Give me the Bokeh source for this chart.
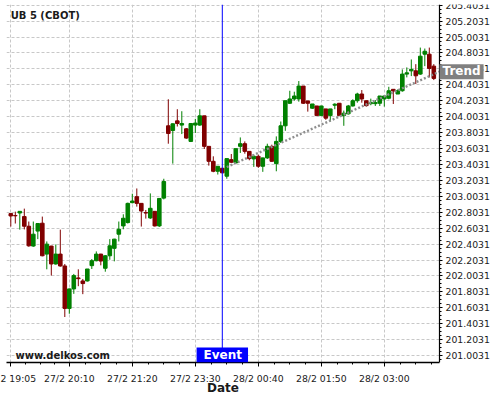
import numpy as np
from bokeh.plotting import figure
from bokeh.models import (ColumnDataSource, Range1d, FixedTicker, PrintfTickFormatter,
                          Span, Label, BoxAnnotation)
from bokeh.embed import file_html
from bokeh.resources import INLINE

# ---------------- data ----------------
tick_idx = [0, 13, 27, 41, 55, 69, 83]
# the first label is cut by the left edge in the original, only "2 19:05" shows
tick_labels = ["2 19:05", "27/2 20:10", "27/2 21:20", "27/2 23:30",
               "28/2 00:40", "28/2 01:50", "28/2 03:00"]

open_ = [202.787, 202.762, 202.794, 202.749, 202.628, 202.379, 202.567, 202.666, 202.278, 202.379,
         202.154, 202.278, 202.129, 201.596, 201.841, 201.979, 201.941, 201.941, 202.133, 202.195,
         202.278, 202.100, 202.257, 202.350, 202.528, 202.632, 202.674, 202.924, 202.999, 202.915,
         202.799, 202.732, 202.815, 202.632, 202.981, 203.889, 203.830, 203.951, 203.898, 203.851,
         203.693, 203.898, 203.898, 204.014, 203.631, 203.443, 203.318, 203.356, 203.256, 203.464,
         203.423, 203.631, 203.664, 203.568, 203.473, 203.506, 203.381, 203.486, 203.631, 203.414,
         203.693, 203.889, 204.172, 204.226, 204.226, 204.388, 204.201, 204.110, 204.138, 204.017,
         204.101, 204.017, 204.147, 204.172, 204.017, 204.039, 204.138, 204.204, 204.288, 204.204,
         204.167, 204.167, 204.172, 204.226, 204.235, 204.347, 204.288, 204.329, 204.538, 204.579,
         204.579, 204.538, 204.788, 204.788, 204.638]
high = [202.790, 202.811, 202.815, 202.849, 202.687, 202.687, 202.666, 202.749, 202.437, 202.382,
        202.399, 202.585, 202.154, 201.845, 202.029, 202.087, 201.966, 202.091, 202.216, 202.312,
        202.282, 202.266, 202.466, 202.470, 202.687, 202.778, 202.924, 203.036, 203.102, 202.915,
        202.832, 203.040, 202.815, 202.977, 203.224, 204.222, 203.920, 204.097, 204.072, 203.860,
        203.923, 203.976, 204.097, 204.014, 203.631, 203.506, 203.381, 203.356, 203.477, 203.535,
        203.602, 203.743, 203.693, 203.568, 203.527, 203.527, 203.489, 203.664, 203.652, 203.756,
        203.943, 204.204, 204.329, 204.317, 204.451, 204.388, 204.201, 204.163, 204.138, 204.138,
        204.101, 204.101, 204.172, 204.172, 204.080, 204.151, 204.222, 204.304, 204.338, 204.204,
        204.230, 204.213, 204.263, 204.272, 204.379, 204.347, 204.347, 204.597, 204.622, 204.722,
        204.663, 204.871, 204.859, 204.871, 204.663]
low = [202.624, 202.662, 202.585, 202.588, 202.370, 202.370, 202.466, 202.250, 202.087, 202.008,
       202.145, 202.120, 201.488, 201.529, 201.779, 201.875, 201.775, 201.933, 202.091, 202.187,
       202.137, 202.057, 202.207, 202.187, 202.437, 202.590, 202.662, 202.915, 202.874, 202.624,
       202.724, 202.719, 202.624, 202.619, 202.965, 203.664, 203.414, 203.880, 203.785, 203.726,
       203.685, 203.798, 203.889, 203.598, 203.389, 203.306, 203.277, 203.298, 203.224, 203.423,
       203.418, 203.548, 203.539, 203.456, 203.373, 203.361, 203.311, 203.473, 203.436, 203.318,
       203.673, 203.826, 204.163, 204.204, 204.192, 204.163, 204.067, 204.101, 204.017, 204.017,
       203.964, 203.943, 204.097, 204.017, 203.889, 204.030, 204.130, 204.179, 204.179, 204.130,
       204.147, 204.138, 204.138, 204.130, 204.222, 204.163, 204.288, 204.317, 204.497, 204.513,
       204.413, 204.529, 204.638, 204.497, 204.463]
close = [202.757, 202.759, 202.815, 202.628, 202.382, 202.528, 202.662, 202.257, 202.403, 202.154,
         202.278, 202.129, 201.596, 201.841, 202.008, 201.970, 201.908, 202.091, 202.195, 202.278,
         202.191, 202.257, 202.382, 202.466, 202.590, 202.728, 202.915, 202.944, 202.915, 202.819,
         202.794, 202.853, 202.632, 202.977, 203.190, 203.793, 203.914, 203.918, 203.918, 203.735,
         203.918, 203.923, 204.014, 203.631, 203.443, 203.318, 203.381, 203.298, 203.477, 203.431,
         203.602, 203.664, 203.568, 203.477, 203.506, 203.381, 203.486, 203.631, 203.443, 203.693,
         203.889, 204.204, 204.226, 204.263, 204.388, 204.172, 204.172, 204.163, 204.017, 204.138,
         203.985, 204.101, 204.160, 204.017, 204.047, 204.138, 204.204, 204.288, 204.226, 204.142,
         204.180, 204.180, 204.263, 204.263, 204.329, 204.326, 204.329, 204.538, 204.554, 204.597,
         204.517, 204.763, 204.825, 204.609, 204.484]

event_idx = 47
trend_idx = [48, 95.27]
trend_val = [203.371, 204.569]

# view settings: the price axis sits at x_axis; the frame reaches the page edge (x_end)
y_lo, y_hi = 200.917, 205.412
x_lo, x_axis, x_end = -0.956, 95.27, 108.82

# ---------------- derived ----------------
o = np.array(open_); c = np.array(close)
idx = np.arange(len(o))
up = c >= o
colors = np.where(up, "#008000", "#800000")
src = ColumnDataSource(dict(x=idx, high=high, low=low,
                            top=np.maximum(o, c), bottom=np.minimum(o, c),
                            color=colors))

FONT = "DejaVu Sans"
TXT = "#1a1a1a"

p = figure(width=500, height=400, x_range=Range1d(x_lo, x_end), y_range=Range1d(y_lo, y_hi),
           output_backend="svg", toolbar_location=None, y_axis_location="right",
           min_border_left=6, min_border_top=4, min_border_right=0, min_border_bottom=36)
p.outline_line_color = None
p.background_fill_color = "white"
p.border_fill_color = "white"

# x axis
x_minor = []
bounds = tick_idx + [tick_idx[-1] + 14]
for a, b in zip(bounds[:-1], bounds[1:]):
    x_minor += [a + (b - a) * k / 4 for k in range(1, 4)]
xt = FixedTicker(ticks=tick_idx, minor_ticks=x_minor)
xa = p.xaxis[0]
xa.ticker = xt
xa.bounds = (x_lo, x_axis)
xa.major_label_overrides = {t: l for t, l in zip(tick_idx, tick_labels)}
xa.major_label_text_font = FONT
xa.major_label_text_font_size = "9.3px"
xa.major_label_text_color = TXT
xa.major_label_standoff = 6
xa.major_tick_out = 4; xa.major_tick_in = 0
xa.minor_tick_out = 2; xa.minor_tick_in = 0
xa.axis_line_width = 1.5

# y axis (drawn at the right edge of the price area)
y_ticks = [201.0031 + 0.2 * k for k in range(23)]
y_minor = [201.0031 + 0.05 * k for k in range(-1, 90)]
yt = FixedTicker(ticks=y_ticks, minor_ticks=y_minor)
ya = p.yaxis[0]
ya.fixed_location = x_axis
ya.ticker = yt
ya.formatter = PrintfTickFormatter(format="%.4f")
ya.major_label_text_font = FONT
ya.major_label_text_font_size = "9.3px"
ya.major_label_text_color = TXT
ya.major_label_standoff = 3
ya.major_tick_out = 3; ya.major_tick_in = 0
ya.minor_tick_out = 2; ya.minor_tick_in = 0
ya.axis_line_width = 1.2

for g, t in ((p.xgrid[0], xt), (p.ygrid[0], yt)):
    g.ticker = t
    g.grid_line_color = "#c8c8c8"
    g.grid_line_dash = "3 2"
    g.grid_line_width = 1

# keep the label strip right of the price axis free of grid lines
p.add_layout(BoxAnnotation(left=x_axis, fill_color="white", fill_alpha=1.0,
                           line_color=None, level="underlay"))

# candles
p.segment(x0="x", y0="low", x1="x", y1="high", line_color="color", line_width=1, source=src)
p.vbar(x="x", width=0.8, top="top", bottom="bottom", fill_color="color",
       line_color="color", line_width=1, source=src)

# trend
p.line(trend_idx, trend_val, line_color="#8e8e8e", line_width=2.4, line_dash="2 2")

# event line
p.add_layout(Span(location=event_idx, dimension="height", line_color="#0000ff", line_width=1))

p.add_layout(Label(x=x_lo, y=y_hi, x_offset=4.2, y_offset=-5.2, text="UB 5 (CBOT)",
                   text_font=FONT, text_font_style="bold", text_font_size="10px",
                   text_color=TXT, text_baseline="top", text_align="left"))
p.add_layout(Label(x=x_lo, y=y_lo, x_offset=9, y_offset=6.7, text="www.delkos.com",
                   text_font=FONT, text_font_style="bold", text_font_size="10px",
                   text_color=TXT, text_baseline="alphabetic", text_align="left"))
p.add_layout(Label(x=event_idx, y=y_lo, text="Event", text_font=FONT,
                   text_font_style="bold", text_font_size="12px", text_color="white",
                   text_align="center", text_baseline="bottom",
                   background_fill_color="#0000ff",
                   padding=dict(left=7, right=6, top=0, bottom=1)))
p.add_layout(Label(x=trend_idx[-1], y=trend_val[-1], text="Trend", text_font=FONT,
                   text_font_style="bold", text_font_size="12px", text_color="white",
                   text_align="left", text_baseline="middle",
                   background_fill_color="#808080",
                   padding=dict(left=3, right=3, top=0, bottom=1)))

# x-axis title, centred under the time axis (kept in the bottom panel)
p.add_layout(Label(x=(x_lo + x_axis) / 2, y=y_lo, y_offset=-25.5, text="Date",
                   text_font=FONT, text_font_style="bold", text_font_size="12px",
                   text_color=TXT, text_align="center", text_baseline="middle"), "below")

open("out.html", "w").write(file_html(p, INLINE))
